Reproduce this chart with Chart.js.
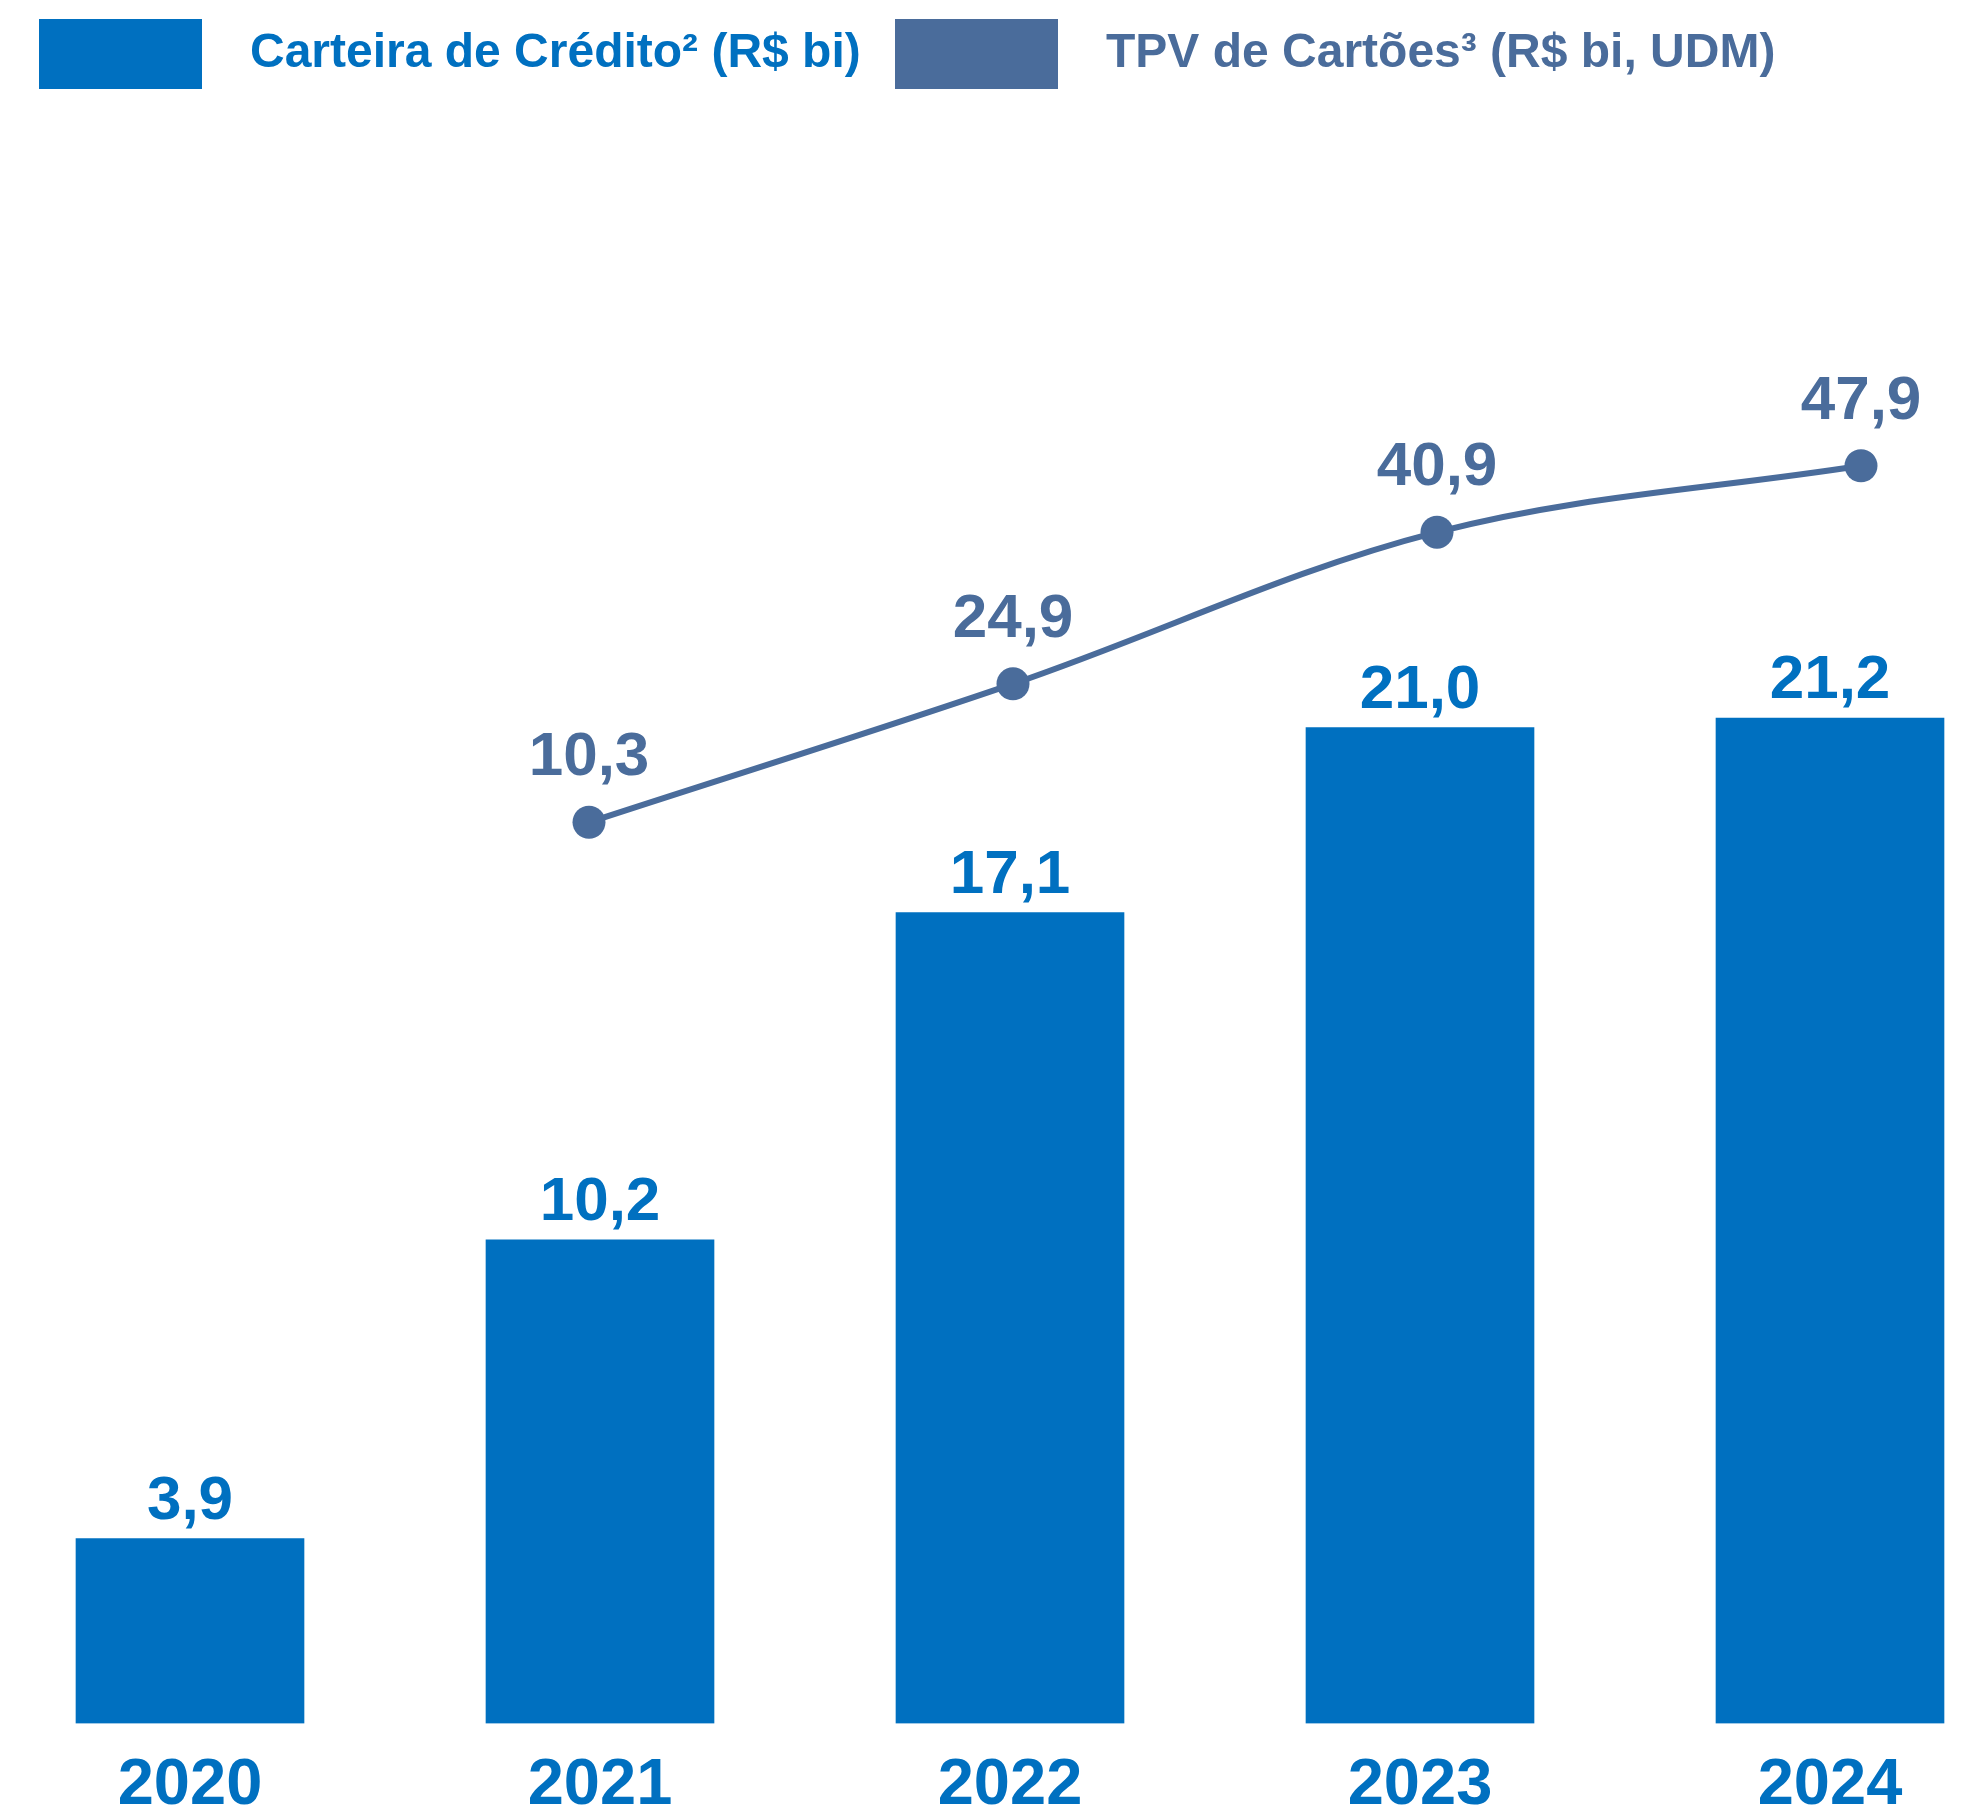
<!DOCTYPE html>
<html lang="pt-BR">
<head>
<meta charset="utf-8">
<title>Carteira de Crédito e TPV de Cartões</title>
<script src="https://cdn.jsdelivr.net/npm/chart.js@4.4.1/dist/chart.umd.min.js"></script>
<style>
    html, body { margin: 0; padding: 0; background: #ffffff; }
    #grafico { display: block; }
</style>
</head>
<body>
<canvas id="grafico" width="1988" height="1816"></canvas>
<script>
const anos = ['2020', '2021', '2022', '2023', '2024'];
const carteiraCredito = [3.9, 10.2, 17.1, 21.0, 21.2];
const tpvCartoes = [null, 10.3, 24.9, 40.9, 47.9];

const azul = '#0070C0';
const azulAcinzentado = '#4A6C9B';
const fonte = '"Liberation Sans", Arial, sans-serif';

function formatar(valor) {
    return valor.toFixed(1).replace('.', ',');
}

// legenda desenhada à mão: caixa grande + texto colorido
const legendaPlugin = {
    id: 'legendaTopo',
    afterDraw(chart) {
        const ctx = chart.ctx;
        const posicoes = [39, 895];
        ctx.save();
        ctx.font = `bold 48px ${fonte}`;
        ctx.textBaseline = 'alphabetic';
        ctx.textAlign = 'left';
        chart.data.datasets.forEach((ds, i) => {
            let x = posicoes[i];
            ctx.fillStyle = ds.legendColor;
            ctx.fillRect(x, 19, 163, 70);
            ctx.fillText(ds.label, x + 211, 67);
        });
        ctx.restore();
    }
};

// rótulos de valor acima das barras e dos pontos
const rotulosPlugin = {
    id: 'rotulosValores',
    afterDatasetsDraw(chart) {
        const ctx = chart.ctx;
        ctx.save();
        ctx.textAlign = 'center';
        ctx.textBaseline = 'alphabetic';
        chart.data.datasets.forEach((ds, i) => {
            let meta = chart.getDatasetMeta(i);
            meta.data.forEach((el, j) => {
                let valor = ds.data[j].y;
                if (valor == null) return;
                ctx.font = `bold 62px ${fonte}`;
                ctx.fillStyle = ds.legendColor;
                if (ds.type === 'bar') {
                    ctx.fillText(formatar(valor), el.x, el.y - 20);
                } else {
                    ctx.fillText(formatar(valor), el.x, el.y - 47);
                }
            });
        });
        ctx.restore();
    }
};

let canvas = document.querySelector('#grafico');
new Chart(canvas, {
    data: {
        datasets: [{
            type: 'bar',
            label: 'Carteira de Crédito² (R$ bi)',
            data: anos.map((a, i) => ({ x: i, y: carteiraCredito[i] })),
            backgroundColor: azul,
            legendColor: azul,
            borderWidth: 0,
            barThickness: 228,
            grouped: false,
            xAxisID: 'x',
            yAxisID: 'y',
            order: 1
        }, {
            type: 'line',
            label: 'TPV de Cartões³ (R$ bi, UDM)',
            data: anos.map((a, i) => ({ x: i, y: tpvCartoes[i] })),
            borderColor: azulAcinzentado,
            backgroundColor: azulAcinzentado,
            legendColor: azulAcinzentado,
            borderWidth: 6,
            tension: 0.35,
            pointRadius: 16.5,
            pointBorderWidth: 0,
            pointBackgroundColor: azulAcinzentado,
            clip: false,
            xAxisID: 'x2',
            yAxisID: 'y2',
            order: 0
        }]
    },
    options: {
        responsive: false,
        animation: false,
        layout: {
            autoPadding: false,
            padding: { top: 120, bottom: -32, left: 0, right: 0 }
        },
        plugins: {
            legend: { display: false },
            tooltip: { enabled: false }
        },
        scales: {
            x: {
                type: 'linear',
                offset: false,
                min: -0.46341,
                max: 4.38537,
                grid: { display: false, drawTicks: false },
                border: { display: false },
                afterBuildTicks: (scale) => {
                    scale.ticks = anos.map((a, i) => ({ value: i }));
                },
                ticks: {
                    autoSkip: false,
                    maxRotation: 0,
                    padding: 33,
                    color: azul,
                    font: { family: fonte, size: 65, weight: 'bold', lineHeight: 0.9 },
                    callback: (value) => anos[value] ?? ''
                }
            },
            x2: {
                type: 'linear',
                display: false,
                offset: false,
                min: -0.38915,
                max: 4.29953
            },
            y: {
                display: false,
                min: 0,
                max: 33.815
            },
            y2: {
                display: false,
                position: 'right',
                min: -84.76,
                max: 84.37
            }
        }
    },
    plugins: [legendaPlugin, rotulosPlugin]
});
</script>
</body>
</html>
